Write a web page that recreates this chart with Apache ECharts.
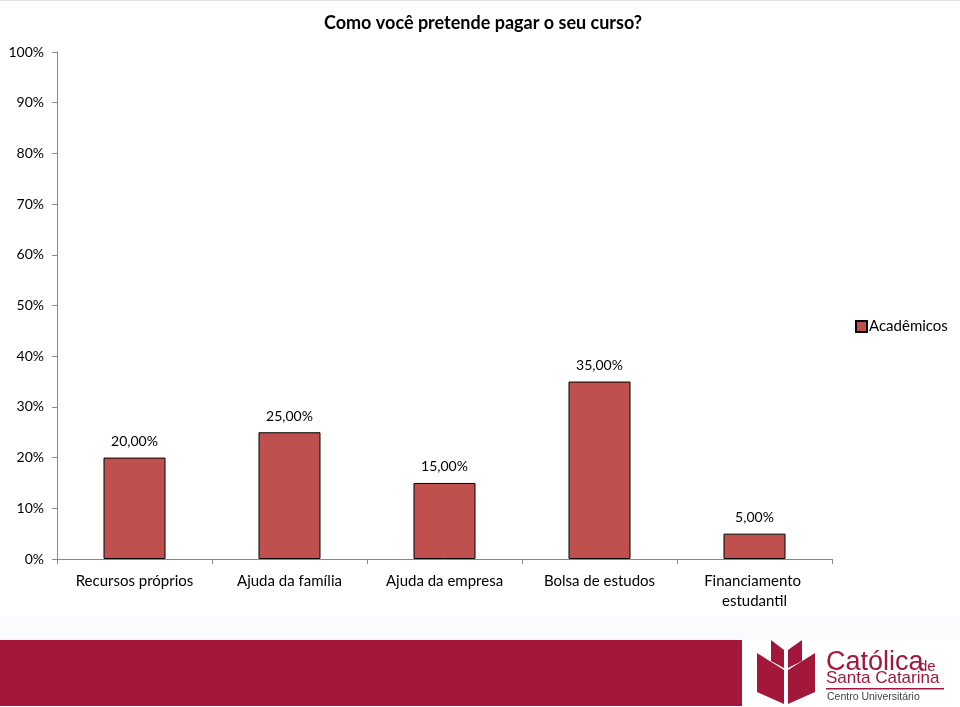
<!DOCTYPE html>
<html>
<head>
<meta charset="utf-8">
<script src="https://cdn.jsdelivr.net/npm/echarts@6/dist/echarts.min.js"></script>
<style>
html,body{margin:0;padding:0;background:#fff;}
#chart{width:960px;height:707px;}
</style>
</head>
<body>
<div id="chart"></div>
<script>
const titleText = 'Como você pretende pagar o seu curso?';
const categories = ['Recursos próprios', 'Ajuda da família', 'Ajuda da empresa', 'Bolsa de estudos', 'Financiamento estudantil'];
const seriesName = 'Acadêmicos';
const values = [20, 25, 15, 35, 5];
const yTicks = { min: 0, max: 100, interval: 10 };

const FONT = 'Lato, "Open Sans", "Liberation Sans", sans-serif';
const LOGO_FONT = '"Liberation Sans", Arial, sans-serif';
const RED = '#A3173A';

const chart = echarts.init(document.getElementById('chart'));
chart.setOption({
  animation: false,
  backgroundColor: '#fff',
  textStyle: { fontFamily: FONT },
  title: {
    text: titleText,
    left: 478, top: 9, textAlign: 'center',
    textStyle: { fontFamily: FONT, fontSize: 18, fontWeight: 'bold', color: '#000' }
  },
  legend: {
    orient: 'vertical',
    left: 850, top: 314,
    itemWidth: 11, itemHeight: 11, itemGap: 5,
    icon: 'rect',
    textStyle: { fontFamily: FONT, fontSize: 15, color: '#000', padding: [0, 0, 0, -3] },
    data: [seriesName]
  },
  grid: { left: 57, right: 128, top: 52, bottom: 148, containLabel: false },
  xAxis: {
    type: 'category',
    data: categories,
    axisLine: { lineStyle: { color: '#888', width: 1 } },
    axisTick: { show: true, length: 5, lineStyle: { color: '#888' } },
    axisLabel: {
      interval: 0, margin: 12, color: '#000', fontFamily: FONT, fontSize: 15,
      width: 145, overflow: 'break', lineHeight: 20
    }
  },
  yAxis: {
    type: 'value',
    min: yTicks.min, max: yTicks.max, interval: yTicks.interval,
    axisLine: { show: true, lineStyle: { color: '#888', width: 1 } },
    axisTick: { show: true, length: 5, lineStyle: { color: '#888' } },
    splitLine: { show: false },
    axisLabel: {
      margin: 13, color: '#000', fontFamily: FONT, fontSize: 14,
      formatter: v => v + '%'
    }
  },
  series: [{
    name: seriesName,
    type: 'bar',
    data: values,
    barWidth: 62,
    itemStyle: { color: '#C0504D', borderColor: '#000', borderWidth: 1 },
    label: {
      show: true, position: 'top', distance: 9,
      color: '#000', fontFamily: FONT, fontSize: 14,
      formatter: p => p.value.toFixed(2).replace('.', ',') + '%'
    }
  }],
  graphic: [
    { type: 'rect', shape: { x: 0, y: 0, width: 960, height: 1 }, style: { fill: '#e2e2e2' }, silent: true },
    { type: 'rect', shape: { x: 0, y: 616, width: 960, height: 24 }, style: { fill: '#fbfbfd' }, silent: true },
    { type: 'rect', shape: { x: 0, y: 640, width: 742, height: 66 }, style: { fill: RED }, silent: true },
    // logo book
    { type: 'polygon', shape: { points: [[757,653],[784,670],[784,704],[757,692]] }, style: { fill: RED }, silent: true },
    { type: 'polygon', shape: { points: [[815,653],[788,670],[788,704],[815,692]] }, style: { fill: RED }, silent: true },
    { type: 'polygon', shape: { points: [[771,640],[784,650],[784,668],[771,661]] }, style: { fill: RED }, silent: true },
    { type: 'polygon', shape: { points: [[802,640],[788,650],[788,668],[802,661]] }, style: { fill: RED }, silent: true },
    { type: 'text', left: 826, top: 649, style: { text: 'Católica', fill: RED, font: '27px ' + LOGO_FONT }, silent: true },
    { type: 'text', left: 919, top: 659, style: { text: 'de', fill: RED, font: '15px ' + LOGO_FONT }, silent: true },
    { type: 'text', left: 826, top: 670, style: { text: 'Santa Catarina', fill: RED, font: '17px ' + LOGO_FONT }, silent: true },
    { type: 'rect', shape: { x: 826, y: 688, width: 118, height: 1.5 }, style: { fill: RED }, silent: true },
    { type: 'text', left: 827, top: 692, style: { text: 'Centro Universitário', fill: '#444', font: '10.5px ' + LOGO_FONT }, silent: true }
  ]
});
</script>
</body>
</html>
